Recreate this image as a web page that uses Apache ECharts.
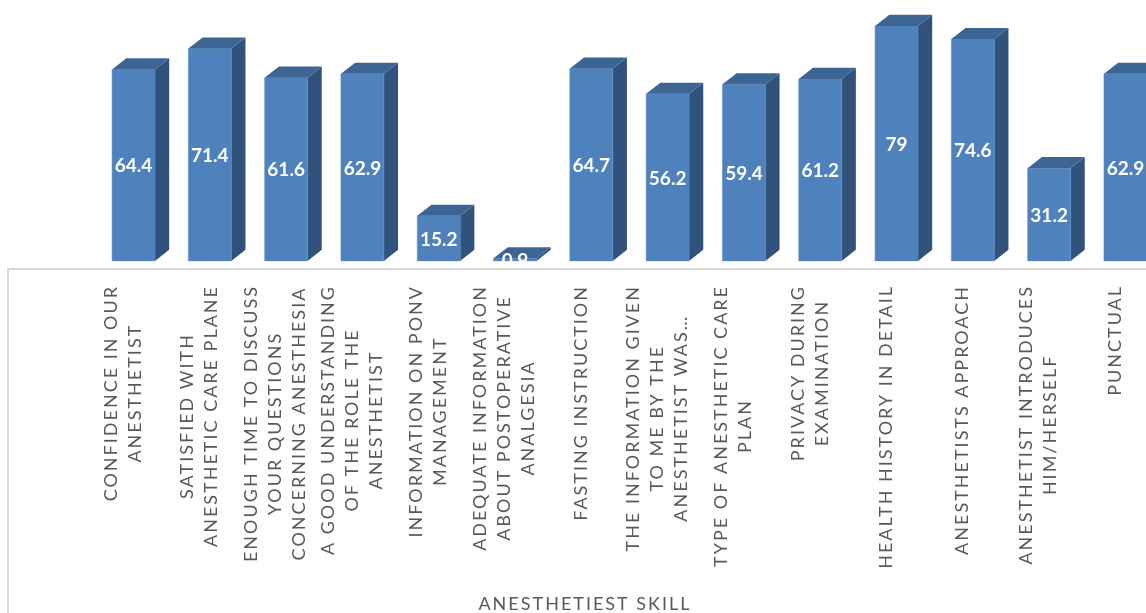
<!DOCTYPE html>
<html>
<head>
<meta charset="utf-8">
<script src="https://cdn.jsdelivr.net/npm/echarts@6/dist/echarts.min.js"></script>
<style>
html,body{margin:0;padding:0;background:#fff;overflow:hidden;width:1146px;height:613px;}
#chart{width:1172px;height:632px;}
</style>
</head>
<body>
<div id="chart"></div>
<script>
// ---- data ----
var categories = [
  "CONFIDENCE IN OUR\nANESTHETIST",
  "SATISFIED WITH\nANESTHETIC CARE PLANE",
  "ENOUGH TIME TO DISCUSS\nYOUR QUESTIONS\nCONCERNING ANESTHESIA",
  "A GOOD UNDERSTANDING\nOF THE ROLE THE\nANESTHETIST",
  "INFORMATION ON PONV\nMANAGEMENT",
  "ADEQUATE INFORMATION\nABOUT POSTOPERATIVE\nANALGESIA",
  "FASTING INSTRUCTION",
  "THE INFORMATION GIVEN\nTO ME BY THE\nANESTHETIST WAS\u2026",
  "TYPE OF ANESTHETIC CARE\nPLAN",
  "PRIVACY DURING\nEXAMINATION",
  "HEALTH HISTORY IN DETAIL",
  "ANESTHETISTS APPROACH",
  "ANESTHETIST INTRODUCES\nHIM/HERSELF",
  "PUNCTUAL"
];
var values = [64.4, 71.4, 61.6, 62.9, 15.2, 0.9, 64.7, 56.2, 59.4, 61.2, 79, 74.6, 31.2, 62.9];
var axisTitle = "ANESTHETIEST SKILL";

// letter spacing for the (non-bold) Lato label text, emulating the tracked Excel font
(function () {
  var P = window.CanvasRenderingContext2D && CanvasRenderingContext2D.prototype;
  if (!P) return;
  var d = Object.getOwnPropertyDescriptor(P, 'font');
  if (!d || !d.set || !('letterSpacing' in P)) return;
  Object.defineProperty(P, 'font', {
    configurable: true,
    get: function () { return d.get.call(this); },
    set: function (v) {
      d.set.call(this, v);
      try { this.letterSpacing = (/Lato/.test(v) && !/bold/.test(v)) ? '2px' : '0px'; } catch (e) {}
    }
  });
})();

var chart = echarts.init(document.getElementById('chart'), null, {renderer: 'canvas'});

function renderBar(params, api) {
  var i = api.value(0), v = api.value(1);
  var base = api.coord([i, 0]);
  var top = api.coord([i, v]);
  var band = api.size([1, 0])[0];
  var fw = band * 0.562;
  var off = band * 0.138;
  var dx = band * 0.186;
  var dy = band * 0.146;
  var xl = base[0] + off - fw / 2, xr = xl + fw;
  var yb = base[1], yt = top[1];
  return {
    type: 'group',
    children: [
      {type: 'polygon', shape: {points: [[xr, yt], [xr + dx, yt - dy], [xr + dx, yb - dy], [xr, yb]]},
        style: {fill: '#31527a'}, z2: 1},
      {type: 'rect', shape: {x: xl, y: yt, width: fw, height: yb - yt},
        style: {fill: '#4f81bd', stroke: '#5b8cc6', lineWidth: 0.6}, z2: 2},
      {type: 'polygon', shape: {points: [[xl, yt], [xl + dx, yt - dy], [xr + dx, yt - dy], [xr, yt]]},
        style: {fill: '#3c6594'}, z2: 3},
      {type: 'text', style: {text: String(v), x: (xl + xr) / 2, y: (yt + yb) / 2 + 1,
        fill: '#ffffff', fontFamily: 'Lato', fontWeight: 'bold', fontSize: 19,
        align: 'center', verticalAlign: 'middle'}, z2: 4},
      {type: 'rect', shape: {x: xl - 4, y: yb + 0.5, width: fw + 8, height: 6},
        style: {fill: '#ffffff'}, z2: 5}
    ]
  };
}

var option = {
  animation: false,
  backgroundColor: '#ffffff',
  title: {
    text: axisTitle, left: 580, top: 589, textAlign: 'center',
    textStyle: {fontFamily: 'Lato', fontWeight: 'normal', fontSize: 18, color: '#595959'}
  },
  grid: [
    {left: 84.85, top: 23, width: 1068.2, height: 238},
    {left: 8, top: 269, right: 0, bottom: 0, show: true, borderColor: '#d9d9d9', borderWidth: 2, backgroundColor: 'transparent'}
  ],
  xAxis: [
    {
      type: 'category', gridIndex: 0, data: categories, boundaryGap: true,
      axisLine: {show: false}, axisTick: {show: false},
      axisLabel: {
        interval: 0, rotate: 90, margin: 24,
        formatter: function (s) { return s.split('\n').map(function (l) { return '{a|' + l + '}'; }).join('\n'); },
        rich: {a: {align: 'center', fontFamily: 'Lato', fontSize: 18, color: '#595959', lineHeight: 24}}
      }
    },
    {type: 'value', gridIndex: 1, show: false}
  ],
  yAxis: [
    {type: 'value', gridIndex: 0, min: 0, max: 80, show: false},
    {type: 'value', gridIndex: 1, show: false}
  ],
  series: [{
    type: 'custom',
    xAxisIndex: 0, yAxisIndex: 0,
    renderItem: renderBar,
    encode: {x: 0, y: 1},
    data: values.map(function (v, i) { return [i, v]; }),
    clip: false
  }]
};
chart.setOption(option);
</script>
</body>
</html>
